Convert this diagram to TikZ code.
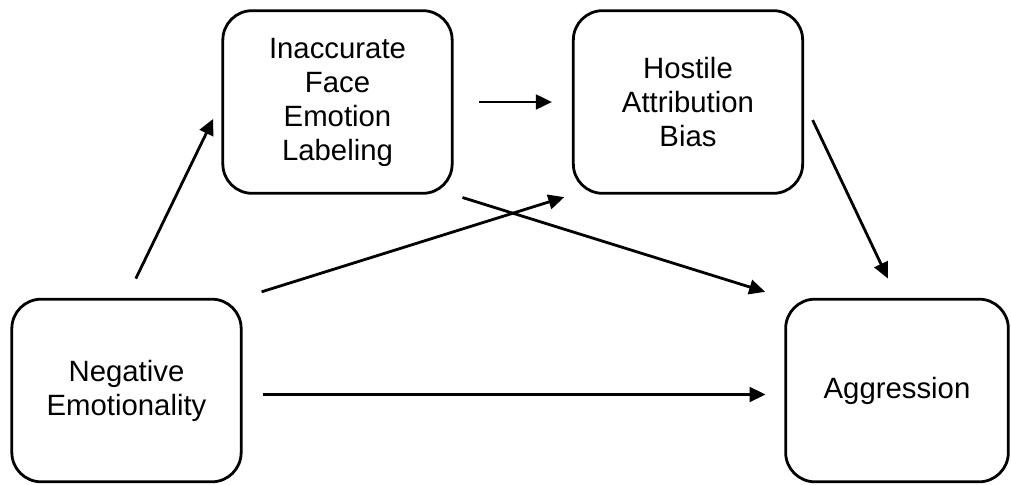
\documentclass[tikz,border=0pt]{standalone}
\usepackage{fontspec}
\setmainfont{Liberation Sans}
\usetikzlibrary{arrows.meta}
\tikzset{>={Triangle[length=12pt,width=11pt]}, x=0.75pt, y=-0.75pt,
  box/.style={draw, line width=2.1pt, rounded corners=22pt, align=center,
    minimum width=172pt, minimum height=137pt, inner sep=0pt,
    font=\fontsize{22}{25.5}\selectfont},
  path/.style={->, line width=2.1pt},}

\begin{document}
\begin{tikzpicture}
        \useasboundingbox (0,0) rectangle (1011,485);
        \node[box] (ifel) at (337.5,102) {Inaccurate\\Face\\Emotion\\Labeling};
        \node[box] (hab) at (688,102) {Hostile\\Attribution\\Bias};
        \node[box] (ne) at (126.5,390.5) {Negative\\Emotionality};
        \node[box, minimum width=167pt] (agg) at (897,390.5) {Aggression};

        \draw (ne.north) edge[path, shorten <=16pt, shorten >=14pt] (ifel.west)
              (ifel.east) edge[path, shorten <=19pt, shorten >=15pt] (hab.west)
              (ifel.south east) edge[path, shorten <=7pt, shorten >=15pt] (agg.north west)
              (ne.north east) edge[path, shorten <=15pt, shorten >=6pt] (hab.south west)
              (hab.east) edge[path, shorten <=15pt, shorten >=16pt] (agg.north)
              ([yshift=-3pt]ne.east) edge[path, shorten <=15pt, shorten >=14pt] ([yshift=-3pt]agg.west);
\end{tikzpicture}
\end{document}
